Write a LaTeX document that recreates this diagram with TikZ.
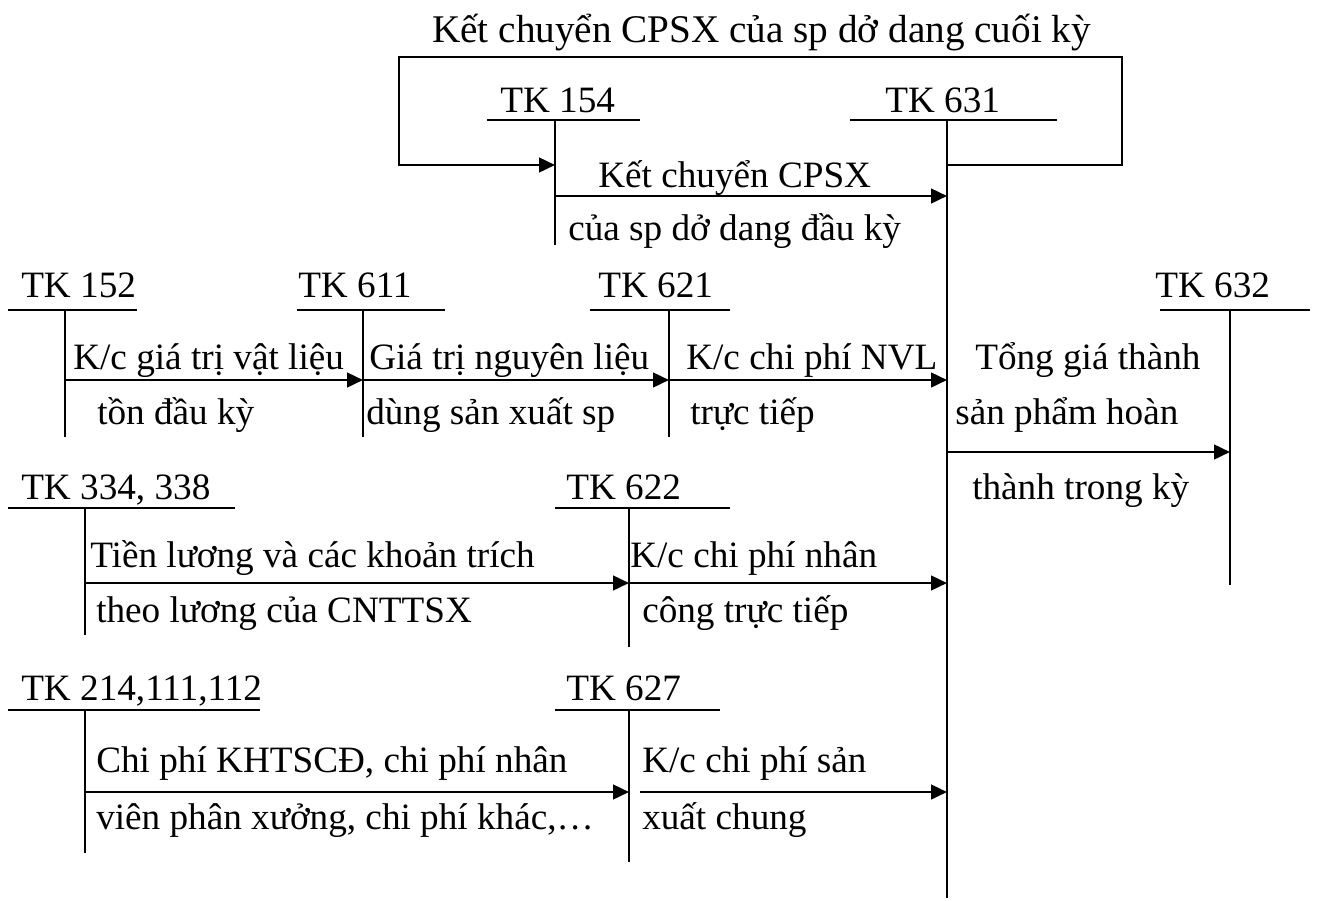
\documentclass[tikz,border=0pt]{standalone}
\usepackage{fontspec}
\setmainfont{Liberation Serif}
\usetikzlibrary{arrows.meta}
\begin{document}
\begin{tikzpicture}[x=0.75pt,y=-0.75pt,
  lbl/.style={inner sep=0pt,anchor=base west,font=\fontsize{27.9}{33}\selectfont},
  tline/.style={line width=1.4pt},
  flow/.style={line width=1.9pt,-{Triangle[length=12pt,width=11pt]}}]
\useasboundingbox (0,0) rectangle (1317,900);

% ---------- T accounts ----------
% TK 154
\node[lbl] (n154) at (500,112) {TK 154};
\draw[tline] (487,120) -- (640,120);
\draw[tline] (555,120) -- (555,245);
% TK 631
\node[lbl] (n631) at (885,112) {TK 631};
\draw[tline] (850,120) -- (1057,120);
\draw[tline] (947,120) -- (947,898);
% TK 152
\node[lbl] (n152) at (21,297) {TK 152};
\draw[tline] (8,310) -- (137,310);
\draw[tline] (65,310) -- (65,437);
% TK 611
\node[lbl] (n611) at (298,297) {TK 611};
\draw[tline] (297,310) -- (445,310);
\draw[tline] (363,310) -- (363,437);
% TK 621
\node[lbl] (n621) at (598,297) {TK 621};
\draw[tline] (590,310) -- (730,310);
\draw[tline] (669,310) -- (669,437);
% TK 632
\node[lbl] (n632) at (1155,297) {TK 632};
\draw[tline] (1160,310) -- (1310,310);
\draw[tline] (1230,310) -- (1230,585);
% TK 334, 338
\node[lbl] (n334) at (21,499) {TK 334, 338};
\draw[tline] (8,508) -- (235,508);
\draw[tline] (85,508) -- (85,635);
% TK 622
\node[lbl] (n622) at (566,499) {TK 622};
\draw[tline] (555,508) -- (730,508);
\draw[tline] (629,508) -- (629,647);
% TK 214,111,112
\node[lbl] (n214) at (21,700) {TK 214,111,112};
\draw[tline] (8,710) -- (260,710);
\draw[tline] (85,710) -- (85,853);
% TK 627
\node[lbl] (n627) at (566,700) {TK 627};
\draw[tline] (555,710) -- (720,710);
\draw[tline] (629,710) -- (629,862);

% ---------- connector points ----------
\coordinate (a154) at (555,165);
\coordinate (l631) at (947,165);
\coordinate (c1) at (1122,165);
\coordinate (c2) at (1122,57);
\coordinate (c3) at (399,57);
\coordinate (c4) at (399,165);
\coordinate (s154) at (555,196);
\coordinate (e631a) at (947,196);
\coordinate (s152) at (65,380);
\coordinate (e611) at (363,380);
\coordinate (e621) at (669,380);
\coordinate (e631b) at (947,380);
\coordinate (s631) at (947,452);
\coordinate (e632) at (1230,452);
\coordinate (s334) at (85,583);
\coordinate (e622) at (629,583);
\coordinate (e631c) at (947,583);
\coordinate (s214) at (85,792);
\coordinate (e627) at (629,792);
\coordinate (s627) at (640,792);
\coordinate (e631d) at (947,792);

% ---------- flows ----------
\draw[flow] (l631) -- (c1) -- (c2) -- (c3) -- (c4) -- (a154);
\draw[flow] (s154) -- (e631a);
\draw[flow] (s152) -- (e611);
\draw[flow] (e611) -- (e621);
\draw[flow] (e621) -- (e631b);
\draw[flow] (s631) -- (e632);
\draw[flow] (s334) -- (e622);
\draw[flow] (e622) -- (e631c);
\draw[flow] (s214) -- (e627);
\draw[flow] (s627) -- (e631d);

% ---------- labels ----------
\node[lbl,font=\fontsize{29.4}{34}\selectfont] (t0) at (432,42) {Kết chuyển CPSX của sp dở dang cuối kỳ};
\node[lbl] (t1) at (598,187) {Kết chuyển CPSX};
\node[lbl] (t2) at (568,240) {của sp dở dang đầu kỳ};
\node[lbl] (t3) at (73,369) {K/c giá trị vật liệu};
\node[lbl] (t4) at (97,424) {tồn đầu kỳ};
\node[lbl] (t5) at (369,369) {Giá trị nguyên liệu};
\node[lbl] (t6) at (366,424) {dùng sản xuất sp};
\node[lbl] (t7) at (686,369) {K/c chi phí NVL};
\node[lbl] (t8) at (690,424) {trực tiếp};
\node[lbl] (t9) at (975,369) {Tổng giá thành};
\node[lbl] (t10) at (955,424) {sản phẩm hoàn};
\node[lbl] (t11) at (972,499) {thành trong kỳ};
\node[lbl] (t12) at (90,567) {Tiền lương và các khoản trích};
\node[lbl] (t13) at (96,622) {theo lương của CNTTSX};
\node[lbl] (t14) at (630,567) {K/c chi phí nhân};
\node[lbl] (t15) at (642,622) {công trực tiếp};
\node[lbl] (t16) at (96,772) {Chi phí KHTSCĐ, chi phí nhân};
\node[lbl] (t17) at (96,829) {viên phân xưởng, chi phí khác,\ldots};
\node[lbl] (t18) at (642,772) {K/c chi phí sản};
\node[lbl] (t19) at (642,829) {xuất chung};
\end{tikzpicture}
\end{document}
